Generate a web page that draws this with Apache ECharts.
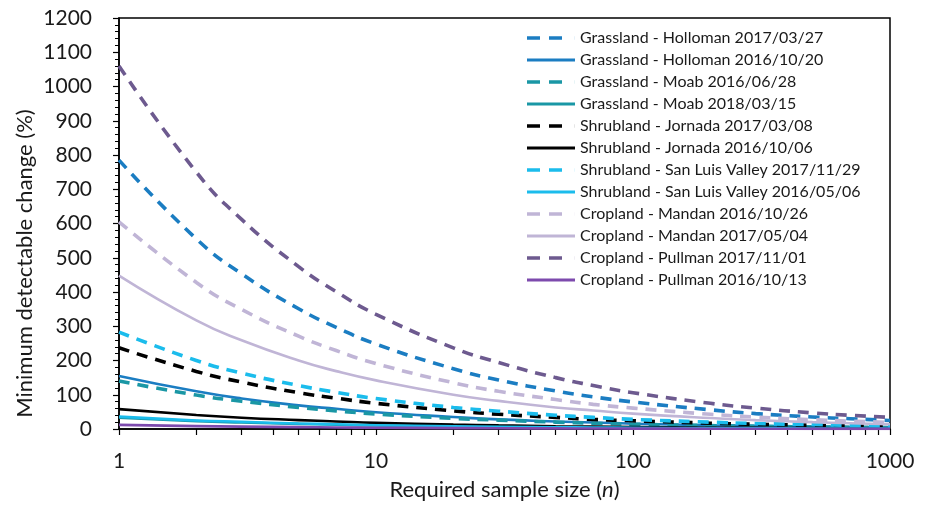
<!DOCTYPE html>
<html>
<head>
<meta charset="utf-8">
<script src="https://cdn.jsdelivr.net/npm/echarts@6/dist/echarts.min.js"></script>
<style>
  html, body { margin: 0; padding: 0; background: #fff; }
  #chart { width: 925px; height: 506px; }
</style>
</head>
<body>
<div id="chart"></div>
<script>
const sampleSizes = [1, 2, 3, 5, 7, 10, 20, 30, 50, 70, 100, 200, 300, 500, 700, 1000]

// minimum detectable change (%) per site / date
const hollomanA = [785, 555, 453, 351, 297, 248, 176, 143, 111, 94, 79, 56, 45, 35, 30, 25]
const hollomanB = [155, 110, 89, 69, 59, 49, 35, 28, 22, 19, 15.5, 11, 9, 7, 6, 5]
const moabA = [140, 99, 81, 63, 53, 44, 31, 26, 20, 17, 14, 10, 8, 6, 5.3, 4.4]
const moabB = [33, 23, 19, 15, 12.5, 10, 7, 6, 4.7, 4, 3.3, 2.3, 1.9, 1.5, 1.2, 1]
const jornadaA = [237, 168, 137, 106, 90, 75, 53, 43, 34, 28, 24, 17, 14, 11, 9, 7.5]
const jornadaB = [58, 41, 33, 26, 22, 18, 13, 10.6, 8.2, 6.9, 5.8, 4.1, 3.3, 2.6, 2.2, 1.8]
const sanLuisA = [283, 200, 163, 127, 107, 89, 63, 52, 40, 34, 28, 20, 16, 13, 11, 9]
const sanLuisB = [36, 25, 21, 16, 14, 11, 8, 6.6, 5, 4.3, 3.6, 2.5, 2, 1.6, 1.4, 1.1]
const mandanA = [605, 428, 349, 271, 229, 191, 135, 110, 86, 72, 61, 43, 35, 27, 23, 19]
const mandanB = [448, 317, 259, 200, 169, 142, 100, 82, 63, 54, 45, 32, 26, 20, 17, 14]
const pullmanA = [1060, 750, 612, 474, 401, 335, 237, 194, 150, 127, 106, 75, 61, 47, 40, 34]
const pullmanB = [12, 8.5, 7, 5.4, 4.5, 3.8, 2.7, 2.2, 1.7, 1.4, 1.2, 0.85, 0.7, 0.5, 0.45, 0.4]

const seriesDefs = [
  { name: 'Grassland - Holloman 2017/03/27', data: hollomanA, color: '#1b7dc2', dashed: true },
  { name: 'Grassland - Holloman 2016/10/20', data: hollomanB, color: '#1b7dc2', dashed: false },
  { name: 'Grassland - Moab 2016/06/28', data: moabA, color: '#1a97a5', dashed: true },
  { name: 'Grassland - Moab 2018/03/15', data: moabB, color: '#1a97a5', dashed: false },
  { name: 'Shrubland - Jornada 2017/03/08', data: jornadaA, color: '#000000', dashed: true },
  { name: 'Shrubland - Jornada 2016/10/06', data: jornadaB, color: '#000000', dashed: false },
  { name: 'Shrubland - San Luis Valley 2017/11/29', data: sanLuisA, color: '#1bbcec', dashed: true },
  { name: 'Shrubland - San Luis Valley 2016/05/06', data: sanLuisB, color: '#1bbcec', dashed: false },
  { name: 'Cropland - Mandan 2016/10/26', data: mandanA, color: '#c0b5d6', dashed: true },
  { name: 'Cropland - Mandan 2017/05/04', data: mandanB, color: '#c0b5d6', dashed: false },
  { name: 'Cropland - Pullman 2017/11/01', data: pullmanA, color: '#6d5a8f', dashed: true },
  { name: 'Cropland - Pullman 2016/10/13', data: pullmanB, color: '#7d4aad', dashed: false }
]

// legend icons: two short dashes or one long stroke, both 48 wide
const dashIcon = 'path://M0,0h13v3.5h-13z M22,0h13v3.5h-13z M47.9,0h0.1v3.5h-0.1z'
const solidIcon = 'path://M0,0.3h48v2.9h-48z M0,0h0.1v3.5h-0.1z'

const chart = echarts.init(document.getElementById('chart'))

const series = seriesDefs.map((s) => {
  return {
    name: s.name,
    type: 'line',
    smooth: true,
    symbol: 'none',
    data: sampleSizes.map((n, i) => [n, s.data[i]]),
    lineStyle: {
      color: s.color,
      width: s.dashed ? 3.6 : 2.6,
      type: s.dashed ? [11, 8] : 'solid'
    },
    itemStyle: { color: s.color }
  }
})

const option = {
  backgroundColor: '#fff',
  animation: false,
  grid: {
    left: 119,
    right: 35,
    top: 18,
    bottom: 77,
    show: true,
    borderColor: '#000',
    borderWidth: 1.5
  },
  legend: {
    left: 527,
    top: 30,
    padding: 0,
    orient: 'vertical',
    itemWidth: 48,
    itemHeight: 3.5,
    itemGap: 6,
    textStyle: {
      fontFamily: 'Lato',
      fontSize: 16,
      color: '#1a1a1a'
    },
    data: seriesDefs.map((s) => {
      return { name: s.name, icon: s.dashed ? dashIcon : solidIcon }
    })
  },
  xAxis: {
    type: 'log',
    logBase: 10,
    min: 1,
    max: 1000,
    name: 'Required sample size ({i|n})',
    nameLocation: 'middle',
    nameGap: 50,
    nameTextStyle: {
      fontFamily: 'Lato',
      fontSize: 22,
      color: '#1a1a1a',
      rich: {
        i: { fontFamily: 'Lato', fontSize: 22, fontStyle: 'italic', color: '#1a1a1a' }
      }
    },
    axisLine: { lineStyle: { color: '#000', width: 1.5 } },
    axisTick: { length: 6, lineStyle: { color: '#000', width: 1.2 } },
    minorTick: { show: true, splitNumber: 9, length: 6, lineStyle: { color: '#000', width: 1.2 } },
    axisLabel: {
      margin: 22,
      fontFamily: 'Lato',
      fontSize: 21,
      color: '#1a1a1a',
      formatter: (v) => String(v)
    },
    splitLine: { show: false }
  },
  yAxis: {
    type: 'value',
    min: 0,
    max: 1200,
    interval: 100,
    name: 'Minimum detectable change (%)',
    nameLocation: 'middle',
    nameGap: 83,
    nameMoveOverlap: false,
    nameTextStyle: {
      fontFamily: 'Lato',
      fontSize: 22,
      color: '#1a1a1a',
      padding: [0, 80, 0, 0]
    },
    axisLine: { show: true, lineStyle: { color: '#000', width: 1.5 } },
    axisTick: { show: true, length: 6, lineStyle: { color: '#000', width: 1.2 } },
    minorTick: { show: true, splitNumber: 5, length: 4, lineStyle: { color: '#000', width: 1 } },
    axisLabel: {
      margin: 10,
      padding: [0, 17, 0, 0],
      fontFamily: 'Lato',
      fontSize: 21,
      color: '#1a1a1a',
      formatter: (v) => String(v)
    },
    splitLine: { show: false }
  },
  series: series
}

chart.setOption(option)
</script>
</body>
</html>
